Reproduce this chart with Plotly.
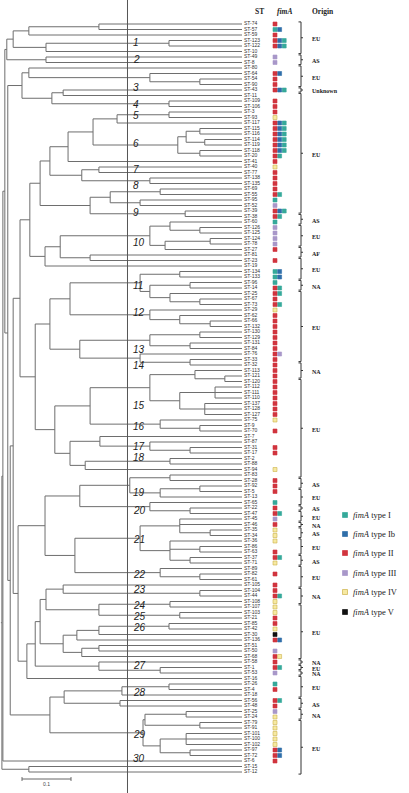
import plotly.graph_objects as go

# ---------------- data ----------------
st_labels = ["ST-74","ST-57","ST-59","ST-123","ST-122","ST-10","ST-49","ST-8","ST-80","ST-64",
 "ST-54","ST-90","ST-43","ST-11","ST-109","ST-106","ST-3","ST-93","ST-117","ST-115",
 "ST-116","ST-114","ST-119","ST-118","ST-20","ST-41","ST-40","ST-77","ST-138","ST-135",
 "ST-69","ST-55","ST-95","ST-52","ST-39","ST-38","ST-60","ST-126","ST-125","ST-124",
 "ST-78","ST-27","ST-81","ST-23","ST-19","ST-134","ST-133","ST-96","ST-14","ST-25",
 "ST-67","ST-73","ST-29","ST-62","ST-66","ST-132","ST-130","ST-129","ST-131","ST-84",
 "ST-76","ST-33","ST-32","ST-113","ST-121","ST-120","ST-112","ST-111","ST-110","ST-137",
 "ST-128","ST-127","ST-75","ST-9","ST-70","ST-7","ST-87","ST-31","ST-17","ST-2",
 "ST-88","ST-94","ST-83","ST-28","ST-92","ST-5","ST-13","ST-65","ST-22","ST-47",
 "ST-45","ST-46","ST-35","ST-34","ST-36","ST-86","ST-63","ST-37","ST-71","ST-89",
 "ST-82","ST-61","ST-105","ST-104","ST-44","ST-108","ST-107","ST-103","ST-21","ST-85",
 "ST-42","ST-30","ST-136","ST-51","ST-50","ST-68","ST-58","ST-1","ST-53","ST-16",
 "ST-26","ST-4","ST-18","ST-56","ST-48","ST-25","ST-24","ST-79","ST-91","ST-101",
 "ST-100","ST-102","ST-97","ST-72","ST-6","ST-15","ST-12"]

fima_types = ["II","I Ib","II","II Ib I","II Ib I","","III","III","","II Ib",
 "II","II","II Ib I","","II","II","II","IV","II Ib I","II Ib I",
 "II Ib I","II Ib I","II Ib I","II Ib I","II I","II","IV","II","II","II",
 "II","II I","I","III","II Ib I","II I","I","III","III","III",
 "III","II","","II","","I Ib","I Ib","I","II I","II I",
 "II","II I","IV","II","II","II","II","II","II","II",
 "II III","II","II","II","II","II","II","II","II","II",
 "II","II","IV","","II","","","II","II","",
 "","IV","","II","II","II","","I","II","II I",
 "III","II","IV","IV","IV","","II","II I","IV","",
 "II","","II","II","II I","IV","IV","IV","II","II",
 "IV","V","II Ib","","III","II IV","II","II I","III","",
 "I","II","","II I","II","III","IV","IV","IV","IV",
 "IV","IV","II Ib","II Ib","II","",""]

fima_names = ["I", "Ib", "II", "III", "IV", "V"]
fima_colors = ["#35a99a", "#2f6ea9", "#d1343e", "#a897c9", "#f6e9a2", "#111111"]
fima_edges = ["#35a99a", "#2f6ea9", "#d1343e", "#a897c9", "#cdb24a", "#111111"]

# tree (UPGMA-like): [node height, children...]; integers are leaf indices
A_clade = [0.480, [0.467, [0.435, [0.292, 0, 1], 2], [0.400, [0.149, 3, 4], 5]], [0.400, 6, 7]]
B_clade = [0.449, [0.435, 8, [0.188, 9, [0.086, 10, 11]]], [0.388, [0.365, 12, 13], [0.149, 14, 15]]]
c6 = [0.131, [0.114, [0.086, 19, 20], [0.076, 21, 22]], [0.086, 23, 24]]
n50 = [0.392, [0.355, [0.304, [0.255, [0.149, 16, 17], 18], c6], 25],
       [0.327, [0.292, 26, 27], [0.188, 28, 29]]]
n9 = [0.310, [0.269, [0.167, 30, 31], [0.208, 32, 33]], [0.116, 34, 35]]
n10 = [0.188, [0.147, 36, [0.086, 37, 38]], [0.157, [0.065, 39, 40], 41]]
M12 = [0.433, [0.412, n50, n9], [0.402, [0.371, n10, [0.310, 42, 43]], 44]]
c11 = [0.208, [0.127, 45, 46], [0.188, [0.106, 47, 48], [0.147, 49, [0.086, 50, 51]]]]
c12 = [0.188, 52, [0.127, 53, [0.065, 54, 55]]]
c13 = [0.188, [0.086, 56, 57], [0.106, 58, 59]]
c14 = [0.208, 60, [0.106, 61, 62]]
c15 = [0.188, [0.096, 63, [0.035, 64, 65]], [0.127, [0.055, 66, 67, 68], [0.076, 69, 70, 71]]]
c16 = [0.167, 72, [0.086, 73, 74]]
c17 = [0.188, 76, [0.106, 77, 78]]
c18 = [0.147, 79, 80]
M34 = [0.422, [0.392, [0.351, c11, c12], [0.331, c13, c14]],
       [0.382, [0.310, c15, c16], [0.351, [0.290, 75, c17], [0.320, c18, 81]]]]
c19 = [0.229, [0.147, 82, 83], [0.167, [0.086, 84, 85], 86]]
c20 = [0.188, 87, [0.106, 88, 89]]
c21 = [0.208, [0.127, 90, 91, [0.065, 92, 93]], [0.147, 94, [0.086, 95, 96], [0.106, 97, 98]]]
c22 = [0.167, 99, [0.086, 100, 101]]
M5 = [0.402, [0.331, c19, c20], [0.341, c21, c22]]
m6a = [0.400, [0.365, 102, [0.086, 103, 104]], [0.292, [0.147, 105, 106], [0.127, 107, 108]]]
m6b = [0.365, [0.337, [0.292, [0.149, 109, 110], 111], 112], [0.327, [0.292, 113, 114], 115]]
M6 = [0.439, [0.422, [0.412, m6a, m6b], [0.292, 116, [0.167, 117, 118]]], 119]
c28 = [0.363, [0.245, [0.149, 120, 121], 122], [0.249, 123, 124]]
c29 = [0.202, [0.198, [0.114, 125, 126], [0.086, 127, 128]],
       [0.167, [0.114, 129, 130, 131], [0.106, 132, 133]]]
MID = [0.467, [0.453, M12, M34], [0.457, M5, M6]]
tree = [0.490, [0.488, [0.484, A_clade, [0.478, B_clade, [0.473, MID, [0.392, c28, c29]]]], 134],
        [0.435, 135, 136]]

clade_numbers = [str(i) for i in range(1, 31)]
clade_rows = [3.3, 6.5, 11.6, 14.7, 16.7, 21.8, 26.4, 29.3, 34.2, 39.8, 47.6, 52.4, 59.1, 62.0, 69.3,
              73.1, 76.9, 78.9, 85.1, 88.4, 93.8, 100.0, 102.9, 105.8, 107.8, 109.8, 116.7, 121.5,
              129.1, 133.6]

origin_names = ["EU","AS","EU","Unknown","EU","AS","EU","AF","EU","NA","EU","NA","EU","AS","EU",
                "AS","EU","NA","AS","EU","AS","EU","NA","EU","NA","EU","NA","EU","AS","NA","EU"]
origin_first = [0,6,8,12,13,35,37,41,43,47,49,62,65,83,85,88,89,91,92,94,97,99,103,106,116,117,118,119,123,125,127]
origin_last = [5,7,11,12,34,36,40,42,46,48,61,64,82,84,87,88,90,91,93,96,98,102,105,115,116,117,118,122,124,126,136]

scale_value = 0.1
cutoff = 0.2337

# ---------------- geometry helpers ----------------
W, H = 409, 793
PX_PER_UNIT = 490.0
LEAF_PX = 242.0
ROW0, ROW_PX = 24.0, 5.5


def px_to_x(px):
    return (px - LEAF_PX) / PX_PER_UNIT


def py_to_row(py):
    return (py - ROW0) / ROW_PX


xs, ys = [], []


def walk(node):
    if isinstance(node, int):
        return 0.0, float(node)
    h = node[0]
    kids = []
    for ch in node[1:]:
        hc, yc = walk(ch)
        xs.extend([-h, -hc, None])
        ys.extend([yc, yc, None])
        kids.append(yc)
    xs.extend([-h, -h, None])
    ys.extend([kids[0], kids[-1], None])
    return h, (kids[0] + kids[-1]) / 2.0


rh, ry = walk(tree)
xs.extend([-rh - 0.002, -rh, None])
ys.extend([ry, ry, None])

fig = go.Figure()
fig.add_trace(go.Scatter(x=xs, y=ys, mode="lines", line=dict(color="#6e6e6e", width=1),
                         hoverinfo="skip"))

n = len(st_labels)
fig.add_trace(go.Scatter(x=[px_to_x(244)] * n, y=list(range(n)), mode="text", text=st_labels,
                         textposition="middle right",
                         textfont=dict(size=5, color="#333333", family="Liberation Sans, Arial"),
                         hoverinfo="skip"))

# fimA squares
for t_i, tname in enumerate(fima_names):
    sx, sy = [], []
    for i, s in enumerate(fima_types):
        for k, tk in enumerate(s.split()):
            if tk == tname:
                sx.append(px_to_x(275 + 4.6 * k))
                sy.append(i)
    fig.add_trace(go.Scatter(x=sx, y=sy, mode="markers",
                             marker=dict(symbol="square", size=4, color=fima_colors[t_i],
                                         line=dict(color=fima_edges[t_i], width=0.6)),
                             hoverinfo="skip"))

shapes = []
# cutoff vertical line
shapes.append(dict(type="line", xref="x", yref="paper", x0=-cutoff, x1=-cutoff, y0=0, y1=1,
                   line=dict(color="#555555", width=1)))
# scale bar
sb_row = py_to_row(779)
shapes.append(dict(type="line", x0=px_to_x(22), x1=px_to_x(22) + scale_value, y0=sb_row, y1=sb_row,
                   line=dict(color="#666666", width=1)))
for xe in (px_to_x(22), px_to_x(22) + scale_value):
    shapes.append(dict(type="line", x0=xe, x1=xe, y0=sb_row - 0.35, y1=sb_row + 0.35,
                       line=dict(color="#666666", width=1)))

annotations = []
annotations.append(dict(x=px_to_x(22) + scale_value / 2, y=py_to_row(784), text="0.1", showarrow=False,
                        yanchor="middle",
                        font=dict(size=5, color="#444", family="Liberation Sans, Arial")))

# clade numbers
for lab, r in zip(clade_numbers, clade_rows):
    annotations.append(dict(x=px_to_x(131), y=r, text="<i>" + lab + "</i>", showarrow=False,
                            xanchor="left", yanchor="middle",
                            font=dict(size=10, color="#222222", family="Liberation Sans, Arial")))

# origin brackets
bx = px_to_x(301)
for name, a, b in zip(origin_names, origin_first, origin_last):
    y0, y1 = a - 0.38, b + 0.38
    mid = (a + b) / 2.0
    shapes.append(dict(type="line", x0=bx, x1=bx, y0=y0, y1=y1, line=dict(color="#333", width=1)))
    shapes.append(dict(type="line", x0=bx, x1=px_to_x(298.5), y0=y0, y1=y0, line=dict(color="#333", width=1)))
    shapes.append(dict(type="line", x0=bx, x1=px_to_x(298.5), y0=y1, y1=y1, line=dict(color="#333", width=1)))
    shapes.append(dict(type="line", x0=bx, x1=px_to_x(303), y0=mid, y1=mid, line=dict(color="#333", width=1)))
    annotations.append(dict(x=px_to_x(310), y=mid + 0.25, text="<b>" + name + "</b>", showarrow=False,
                            xanchor="left", yanchor="middle",
                            font=dict(size=6, color="#222", family="Liberation Serif, Times New Roman")))

# headers
for txt, px in (("<b>ST</b>", 259), ("<b><i>fimA</i></b>", 284), ("<b>Origin</b>", 323)):
    annotations.append(dict(x=px / W, y=1 - 12 / H, xref="paper", yref="paper", text=txt,
                            showarrow=False, xanchor="center", yanchor="middle",
                            font=dict(size=7.5, color="#222", family="Liberation Serif, Times New Roman")))

# legend
leg_py = [515, 534, 553, 573, 592, 612]
for t_i, tname in enumerate(fima_names):
    yy = py_to_row(leg_py[t_i])
    fig.add_trace(go.Scatter(x=[px_to_x(345)], y=[yy], mode="markers",
                             marker=dict(symbol="square", size=5, color=fima_colors[t_i],
                                         line=dict(color=fima_edges[t_i], width=0.7)),
                             hoverinfo="skip"))
    annotations.append(dict(x=px_to_x(351), y=yy, text="<i>fimA</i> type " + tname, showarrow=False,
                            xanchor="left", yanchor="middle",
                            font=dict(size=8.5, color="#222", family="Liberation Serif, Times New Roman")))

fig.update_layout(
    width=W, height=H, margin=dict(l=0, r=0, t=0, b=0),
    paper_bgcolor="white", plot_bgcolor="white", showlegend=False,
    xaxis=dict(range=[px_to_x(0), px_to_x(W)], visible=False, fixedrange=True),
    yaxis=dict(range=[py_to_row(H), py_to_row(0)], visible=False, fixedrange=True),
    shapes=shapes, annotations=annotations,
)

fig.write_html("out.html", config={"displayModeBar": False},
               post_script="document.body.style.margin='0px';document.body.style.overflow='hidden';")
